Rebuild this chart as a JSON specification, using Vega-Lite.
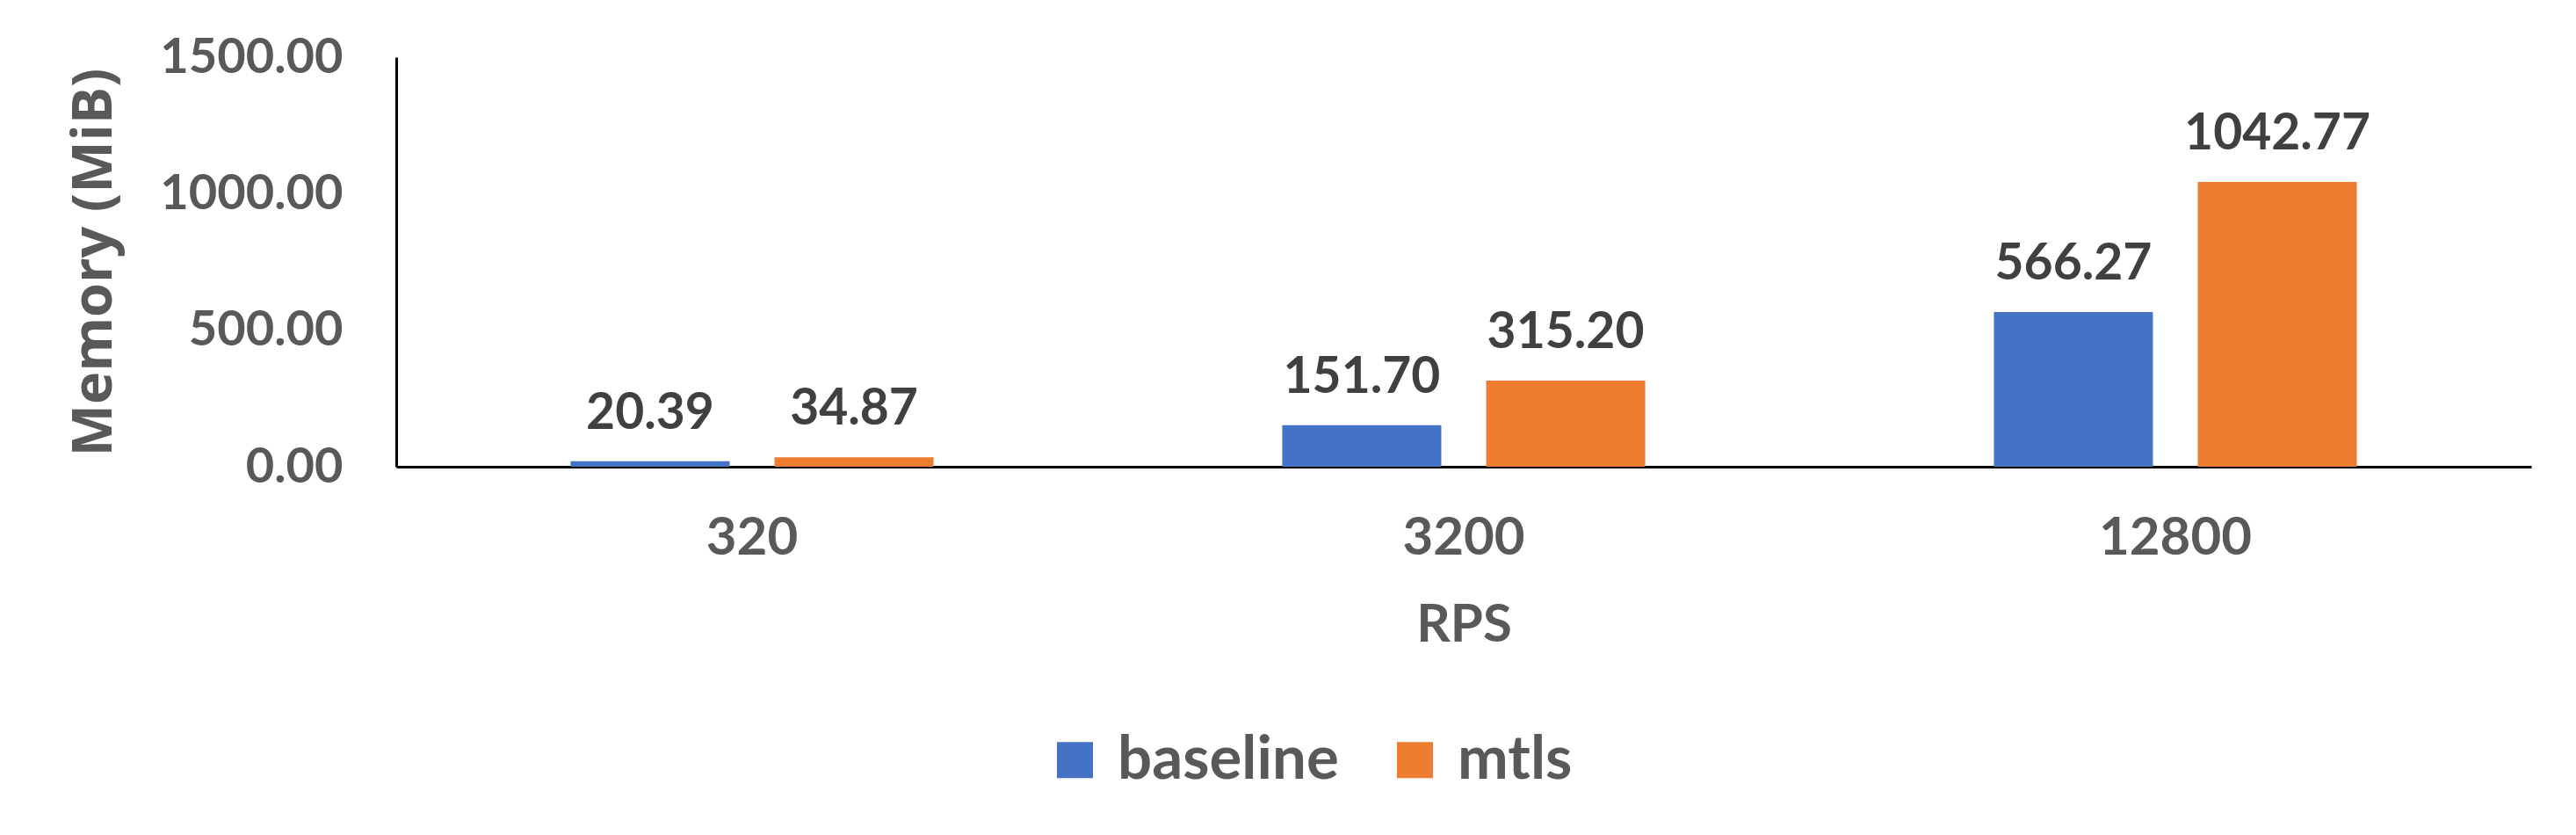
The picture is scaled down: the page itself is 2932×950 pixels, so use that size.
{
  "$schema": "https://vega.github.io/schema/vega-lite/v6.json",
  "width": 2430,
  "height": 466,
  "autosize": {"type": "none"},
  "padding": {"left": 451, "top": 65, "right": 51, "bottom": 419},
  "background": "white",
  "config": {"view": {"stroke": null}, "font": "Lato"},
  "data": {
    "values": [
      {"rps": "320", "series": "baseline", "memory": 20.39},
      {"rps": "320", "series": "mtls", "memory": 34.87},
      {"rps": "3200", "series": "baseline", "memory": 151.70},
      {"rps": "3200", "series": "mtls", "memory": 315.20},
      {"rps": "12800", "series": "baseline", "memory": 566.27},
      {"rps": "12800", "series": "mtls", "memory": 1042.77}
    ]
  },
  "encoding": {
    "x": {
      "field": "rps",
      "type": "nominal",
      "sort": ["320", "3200", "12800"],
      "scale": {"paddingInner": 0.49, "paddingOuter": 0.245},
      "title": "RPS",
      "axis": {
        "domainColor": "black",
        "domainWidth": 3,
        "ticks": false,
        "grid": false,
        "labelAngle": 0,
        "labelLimit": 1000,
        "labelFont": "Lato",
        "labelFontWeight": "bold",
        "labelFontSize": 60,
        "labelColor": "#595959",
        "labelPadding": 52,
        "maxExtent": 1000,
        "titleFont": "Lato",
        "titleFontWeight": "bold",
        "titleFontSize": 60,
        "titleColor": "#595959",
        "titlePadding": 40
      }
    },
    "xOffset": {
      "field": "series",
      "sort": ["baseline", "mtls"],
      "scale": {"paddingInner": 0.22, "paddingOuter": 0}
    },
    "y": {
      "field": "memory",
      "type": "quantitative",
      "scale": {"domain": [0, 1500], "nice": false},
      "title": "Memory (MiB)",
      "axis": {
        "values": [0, 500, 1000, 1500],
        "format": ".2f",
        "domainColor": "black",
        "domainWidth": 3,
        "ticks": false,
        "grid": false,
        "labelFlush": false,
        "labelLimit": 1000,
        "labelFont": "Lato",
        "labelFontWeight": "bold",
        "labelFontSize": 56,
        "labelColor": "#595959",
        "labelPadding": 61,
        "maxExtent": 1000,
        "titleFont": "Open Sans",
        "titleFontWeight": "bold",
        "titleFontSize": 63,
        "titleColor": "#595959",
        "titleLimit": 2000,
        "titlePadding": 42
      }
    }
  },
  "layer": [
    {
      "mark": {"type": "bar"},
      "encoding": {
        "color": {
          "field": "series",
          "type": "nominal",
          "sort": ["baseline", "mtls"],
          "scale": {"domain": ["baseline", "mtls"], "range": ["#4472C4", "#ED7D31"]},
          "legend": {
            "orient": "none",
            "legendX": 738,
            "legendY": 765,
            "direction": "horizontal",
            "title": null,
            "padding": 0,
            "symbolType": "square",
            "symbolSize": 1681,
            "symbolStrokeWidth": 0,
            "symbolOpacity": 1,
            "labelFont": "Lato",
            "labelFontWeight": "bold",
            "labelFontSize": 69,
            "labelColor": "#595959",
            "labelLimit": 1000,
            "labelOffset": 14,
            "columnPadding": 52
          }
        }
      }
    },
    {
      "mark": {
        "type": "text",
        "baseline": "alphabetic",
        "dy": -37,
        "font": "Lato",
        "fontWeight": "bold",
        "fontSize": 57,
        "color": "#404040"
      },
      "encoding": {
        "text": {"field": "memory", "type": "quantitative", "format": ".2f"}
      }
    }
  ]
}
